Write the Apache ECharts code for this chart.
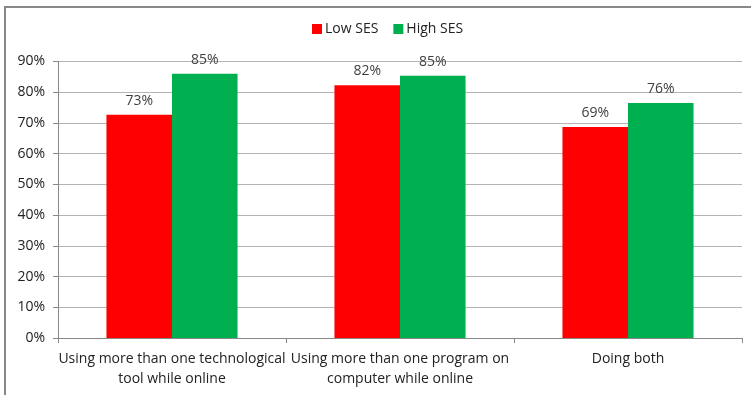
<!DOCTYPE html>
<html>
<head>
<meta charset="utf-8">
<script src="https://cdn.jsdelivr.net/npm/echarts@6/dist/echarts.min.js"></script>
<style>
html,body{margin:0;padding:0;background:#fff;}
#chart{width:751px;height:395px;}
</style>
</head>
<body>
<div id="chart"></div>
<script>
var categories = ['Using more than one technological\ntool while online', 'Using more than one program on\ncomputer while online', 'Doing both'];
var seriesNames = ['Low SES', 'High SES'];
var lowSES = [72.7, 82.3, 68.7];
var highSES = [86.0, 85.4, 76.5];
var lowLabels = ['73%', '82%', '69%'];
var highLabels = ['85%', '85%', '76%'];
var yTicks = [0, 90, 10];

var FONT = '"Open Sans", Lato, sans-serif';
var chart = echarts.init(document.getElementById('chart'), null, {renderer: 'canvas'});
function lbl(arr) {
  return {
    show: true, position: 'top', distance: 7,
    fontFamily: FONT, fontSize: 14, color: '#404040',
    formatter: function (p) { return arr[p.dataIndex]; }
  };
}
chart.setOption({
  animation: false,
  backgroundColor: '#fff',
  graphic: [{
    type: 'rect', silent: true,
    shape: {x: 5, y: 7, width: 800, height: 500},
    style: {fill: 'none', stroke: '#888888', lineWidth: 2}
  }],
  legend: {
    top: 17, left: 307,
    itemWidth: 10, itemHeight: 10, itemGap: 15,
    icon: 'rect',
    textStyle: {fontFamily: FONT, fontSize: 14, color: '#222', padding: [0, 0, 0, -2]},
    data: seriesNames
  },
  grid: {left: 58, right: 9, top: 61.5, bottom: 57, containLabel: false},
  xAxis: {
    type: 'category',
    data: categories,
    axisLine: {lineStyle: {color: '#888888'}},
    axisTick: {show: true, length: 5, lineStyle: {color: '#888888'}},
    axisLabel: {fontFamily: FONT, fontSize: 14, color: '#222', lineHeight: 20, margin: 11, interval: 0}
  },
  yAxis: {
    type: 'value',
    min: yTicks[0], max: yTicks[1], interval: yTicks[2],
    axisLine: {show: true, lineStyle: {color: '#888888'}},
    axisTick: {show: true, length: 5, lineStyle: {color: '#888888'}},
    axisLabel: {fontFamily: FONT, fontSize: 14, color: '#222', margin: 13, formatter: '{value}%'},
    splitLine: {lineStyle: {color: '#b4b4b4'}}
  },
  series: [{
    name: seriesNames[0], type: 'bar', data: lowSES,
    barCategoryGap: '42.5%', barGap: '0%',
    itemStyle: {color: '#FF0000'},
    label: lbl(lowLabels)
  }, {
    name: seriesNames[1], type: 'bar', data: highSES,
    barCategoryGap: '42.5%', barGap: '0%',
    itemStyle: {color: '#00B050'},
    label: lbl(highLabels)
  }]
});
</script>
</body>
</html>
